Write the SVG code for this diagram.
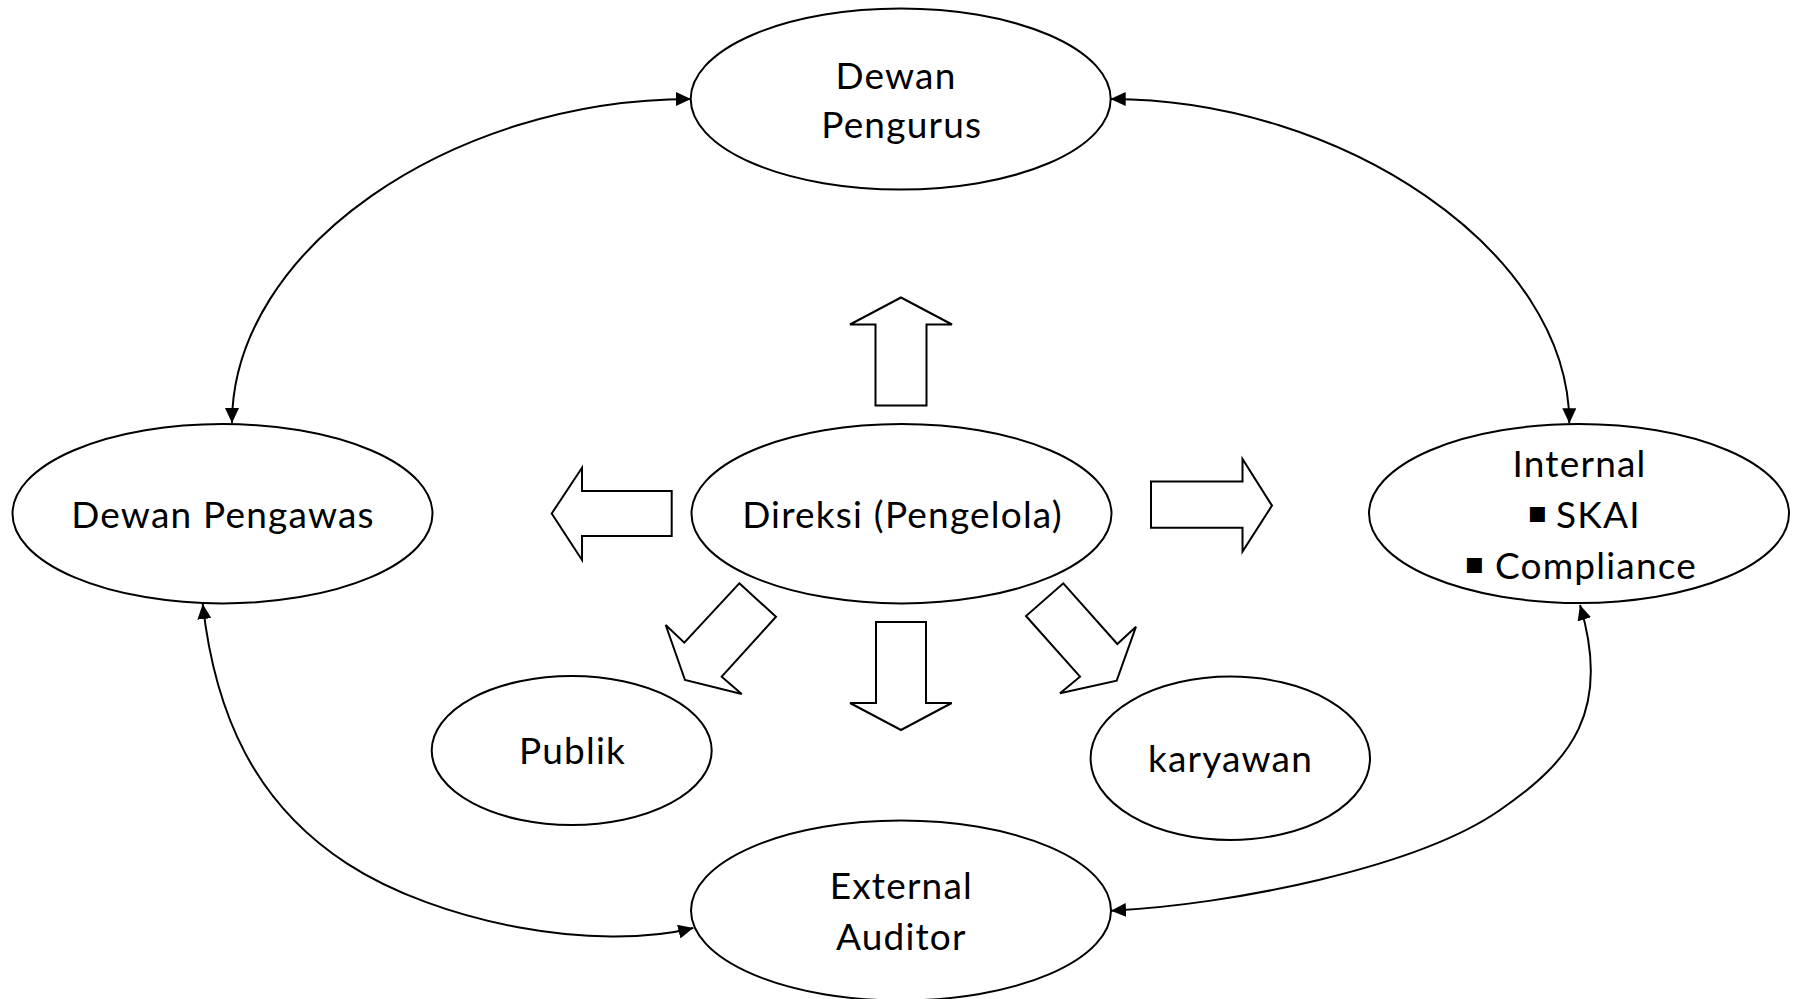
<svg xmlns="http://www.w3.org/2000/svg" width="1793" height="999" viewBox="0 0 1793 999">
  <style>
    .node { fill: #ffffff; stroke: #000000; stroke-width: 2; }
    .block { fill: #ffffff; stroke: #000000; stroke-width: 2; stroke-linejoin: miter; }
    .label { font-family: Lato, "Liberation Sans", sans-serif; font-size: 37px; letter-spacing: 1.2px; fill: #000000; text-anchor: middle; }
    .item { font-family: Lato, "Liberation Sans", sans-serif; font-size: 37px; letter-spacing: 1.2px; fill: #000000; }
    .bullet { font-family: "DejaVu Sans", sans-serif; font-size: 30px; letter-spacing: 0; }
    .link { fill: none; stroke: #000000; stroke-width: 2; marker-start: url(#head); marker-end: url(#head); }
  </style>
  <defs>
    <marker id="head" viewBox="0 0 15 14" refX="15" refY="7" markerWidth="15" markerHeight="14" markerUnits="userSpaceOnUse" orient="auto-start-reverse">
      <path d="M0,0 L15,7 L0,14 Z" fill="#000000"/>
    </marker>
  </defs>
  <rect width="1793" height="999" fill="#ffffff"/>

  <!-- two-way links around the outer ring -->
  <g id="connectors">
    <path class="link" d="M691,99 C450,99 232,250 232,423"/>
    <path class="link" d="M1110.7,99 C1340,99 1569.3,250 1569.3,423.3"/>
    <path class="link" d="M202.7,604 C215,714 254.7,803.3 346.7,863.3 C438.9,923.3 596,952.3 693.3,928"/>
    <path class="link" d="M1580,605 C1612,710.6 1571,761.3 1500,810 C1418,867.3 1231,905 1111,910.7"/>
  </g>

  <!-- block arrows leaving the centre node -->
  <g id="block-arrows">
    <polygon id="arrow-up" class="block" points="901,297.5 952,324.5 926.5,324.5 926.5,405.5 875.5,405.5 875.5,324.5 850,324.5"/>
    <polygon id="arrow-down" class="block" points="876,622 926,622 926,703 951.7,703 901,730 850,703 876,703"/>
    <polygon id="arrow-left" class="block" points="551.7,513.5 582,467.7 582,491 671.7,491 671.7,536 582,536 582,560"/>
    <polygon id="arrow-right" class="block" points="1151,481.5 1242.5,481.5 1242.5,459 1272,505.6 1242.5,551.5 1242.5,527.8 1151,527.8"/>
    <polygon id="arrow-publik" class="block" points="739.3,583.3 776,616.7 721.7,676.7 741.7,694 685,680 665.7,625 684.3,642.7"/>
    <polygon id="arrow-karyawan" class="block" points="1063.3,583.3 1117.3,644 1136,626.7 1116.7,680.7 1060,693.3 1080,676.7 1026,616"/>
  </g>

  <g id="dewan-pengurus">
    <ellipse class="node" cx="900.7" cy="99" rx="210" ry="90.5"/>
    <text class="label" x="896" y="89.3">Dewan</text>
    <text class="label" x="901.7" y="137.7">Pengurus</text>
  </g>

  <g id="dewan-pengawas">
    <ellipse class="node" cx="222.5" cy="513.7" rx="210" ry="89.7"/>
    <text class="label" x="223" y="528.3">Dewan Pengawas</text>
  </g>

  <g id="direksi">
    <ellipse class="node" cx="901.5" cy="513.7" rx="210" ry="89.7"/>
    <text class="label" x="902.5" y="528.3">Direksi (Pengelola)</text>
  </g>

  <g id="internal">
    <ellipse class="node" cx="1579" cy="513.5" rx="210" ry="89.5"/>
    <text class="label" x="1579.5" y="477">Internal</text>
    <text class="item"><tspan class="bullet" x="1527" y="522">▪</tspan><tspan x="1556" y="528">SKAI</tspan></text>
    <text class="item"><tspan class="bullet" x="1464" y="573">▪</tspan><tspan x="1495" y="579">Compliance</tspan></text>
  </g>

  <g id="external-auditor">
    <ellipse class="node" cx="901" cy="910.5" rx="210" ry="90"/>
    <text class="label" x="901.3" y="899.3">External</text>
    <text class="label" x="901.3" y="950">Auditor</text>
  </g>

  <g id="publik">
    <ellipse class="node" cx="571.7" cy="750.5" rx="140" ry="74.5"/>
    <text class="label" x="572.5" y="764.3">Publik</text>
  </g>

  <g id="karyawan">
    <ellipse class="node" cx="1230.3" cy="758.3" rx="139.7" ry="81.7"/>
    <text class="label" x="1230.5" y="771.7">karyawan</text>
  </g>
</svg>
